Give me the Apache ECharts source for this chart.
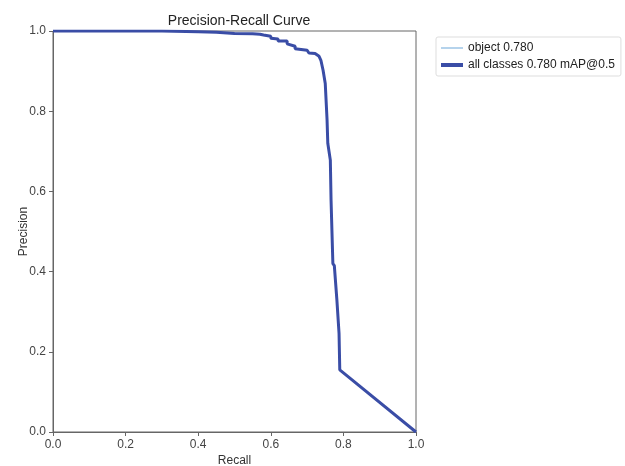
<!DOCTYPE html>
<html>
<head>
<meta charset="utf-8">
<script src="https://cdn.jsdelivr.net/npm/echarts@6/dist/echarts.min.js"></script>
<style>
  html, body { margin: 0; padding: 0; background: #fff; }
  #main { width: 625px; height: 466px; }
</style>
</head>
<body>
<div id="main"></div>
<script>
// PR curve points
var recall = [0, 0.10, 0.20, 0.30, 0.40, 0.45, 0.50, 0.55, 0.57, 0.58, 0.60, 0.60, 0.62, 0.62, 0.645, 0.645, 0.65, 0.667, 0.667, 0.672, 0.70, 0.705, 0.722, 0.733, 0.738, 0.744, 0.750, 0.755, 0.757, 0.764, 0.766, 0.771, 0.775, 0.780, 0.782, 0.788, 0.790, 1.0];
var precision = [1.0, 1.0, 1.0, 1.0, 0.998, 0.997, 0.994, 0.993, 0.992, 0.99, 0.987, 0.982, 0.98, 0.975, 0.975, 0.968, 0.964, 0.962, 0.956, 0.952, 0.952, 0.945, 0.944, 0.937, 0.927, 0.902, 0.869, 0.778, 0.72, 0.678, 0.578, 0.42, 0.415, 0.412, 0.33, 0.246, 0.155, 0.0];
var seriesNames = ['object 0.780', 'all classes 0.780 mAP@0.5'];

var pts = recall.map(function (r, i) { return [r, precision[i]]; });

var chart = echarts.init(document.getElementById('main'));
var font = 'Liberation Sans';
var option = {
  animation: false,
  textStyle: { fontFamily: font },
  title: {
    text: 'Precision-Recall Curve',
    left: 234,
    textAlign: 'center',
    top: 9,
    textStyle: { fontFamily: font, fontSize: 14, fontWeight: 'normal', color: '#222' }
  },
  legend: {
    orient: 'vertical',
    left: 436,
    top: 37,
    padding: [5, 6, 5, 5],
    itemGap: 5,
    itemWidth: 22,
    itemHeight: 10,
    borderColor: '#ddd',
    borderWidth: 1,
    borderRadius: 2,
    textStyle: { fontFamily: font, fontSize: 12, color: '#222' },
    data: [
      { name: seriesNames[0], icon: 'path://M0,4.5 L22,4.5 L22,5.5 L0,5.5 Z' },
      { name: seriesNames[1], icon: 'path://M0,3 L22,3 L22,7 L0,7 Z' }
    ]
  },
  grid: {
    left: 53, top: 31, width: 363, height: 401,
    outerBoundsMode: 'none', containLabel: false,
    show: true, borderColor: '#666', borderWidth: 1
  },
  xAxis: {
    type: 'value', min: 0, max: 1, interval: 0.2,
    name: 'Recall', nameLocation: 'middle', nameGap: 23, nameMoveOverlap: false,
    nameTextStyle: { fontFamily: font, fontSize: 12, color: '#333' },
    axisLine: { show: true, lineStyle: { color: '#666' } },
    axisTick: { show: true, length: 4, lineStyle: { color: '#666' } },
    axisLabel: { fontFamily: font, fontSize: 12, color: '#444', margin: 7,
      formatter: function (v) { return v.toFixed(1); } },
    splitLine: { show: false }
  },
  yAxis: {
    type: 'value', min: 0, max: 1, interval: 0.2,
    name: 'Precision', nameLocation: 'middle', nameGap: 23, nameMoveOverlap: false,
    nameTextStyle: { fontFamily: font, fontSize: 12, color: '#333' },
    axisLine: { show: true, lineStyle: { color: '#666' } },
    axisTick: { show: true, length: 4, lineStyle: { color: '#666' } },
    axisLabel: { fontFamily: font, fontSize: 12, color: '#444', margin: 7,
      formatter: function (v) { return v.toFixed(1); } },
    splitLine: { show: false }
  },
  series: [
    {
      name: seriesNames[0], type: 'line', data: pts, showSymbol: false,
      color: '#6aa6d8', lineStyle: { width: 1, color: '#6aa6d8' }, z: 2
    },
    {
      name: seriesNames[1], type: 'line', data: pts, showSymbol: false,
      color: '#3a4da6', lineStyle: { width: 3, color: '#3a4da6' }, z: 3
    }
  ]
};
chart.setOption(option);
window.onresize = function () {
  chart.resize();
};
</script>
</body>
</html>
